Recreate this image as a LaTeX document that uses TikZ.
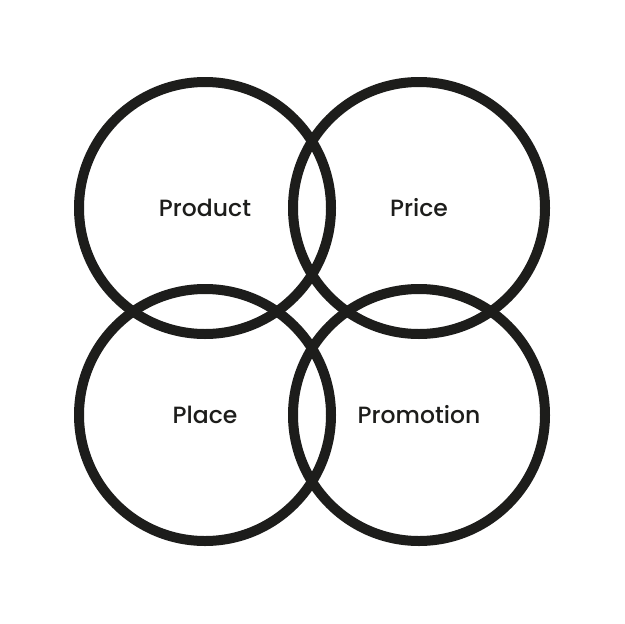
\documentclass[tikz,border=0pt]{standalone}
\usepackage{fontspec}
\setmainfont{Poppins}[UprightFont=* Medium]
\definecolor{ink}{HTML}{1D1D1B}
\begin{document}
\begin{tikzpicture}[x=1pt,y=-1pt,
  ring/.style={draw=ink,line width=10pt,circle,minimum size=252pt,inner sep=0pt},
  lbl/.style={text=ink,font=\fontsize{23.5}{28}\selectfont,anchor=center}]
\useasboundingbox (0,0) rectangle (624,624);
\fill[white] (0,0) rectangle (624,624);
\node[ring] (c1) at (205,208) {};
\node[ring] (c2) at (419,208) {};
\node[ring] (c3) at (205,415) {};
\node[ring] (c4) at (419,415) {};
\node[lbl] (t1) at (c1.center) {Product};
\node[lbl] (t2) at (c2.center) {Price};
\node[lbl] (t3) at (c3.center) {Place};
\node[lbl] (t4) at (c4.center) {Promotion};
\end{tikzpicture}
\end{document}
